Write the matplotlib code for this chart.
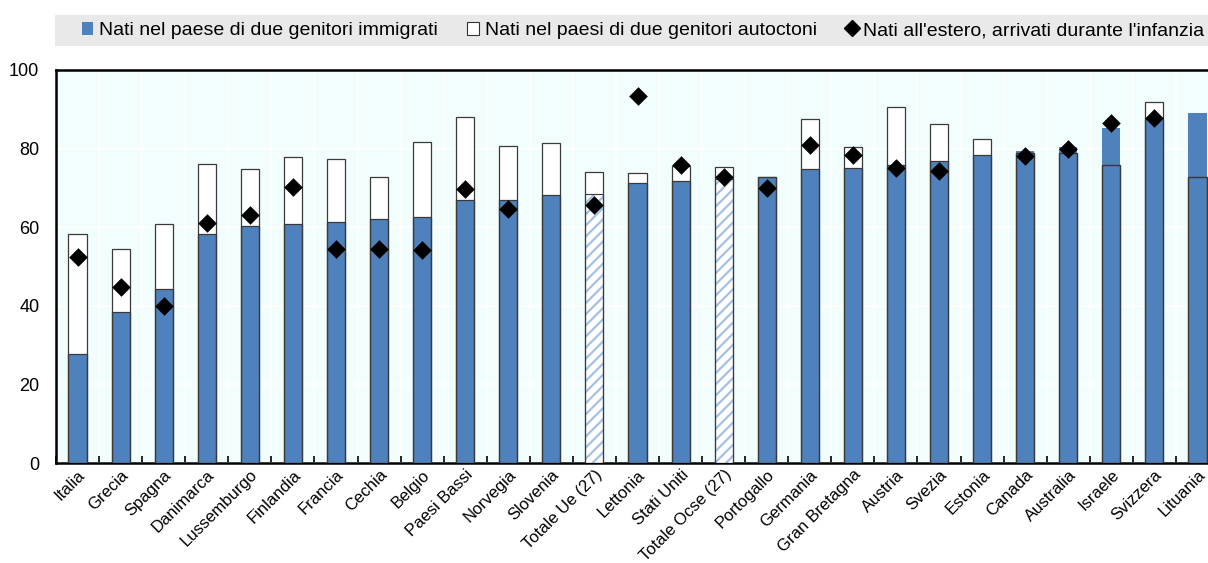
import matplotlib
matplotlib.use("Agg")
import matplotlib.pyplot as plt
import numpy as np
from matplotlib.patches import Patch
from matplotlib.lines import Line2D

categories = ["Italia", "Grecia", "Spagna", "Danimarca", "Lussemburgo", "Finlandia", "Francia",
              "Cechia", "Belgio", "Paesi Bassi", "Norvegia", "Slovenia", "Totale Ue (27)", "Lettonia",
              "Stati Uniti", "Totale Ocse (27)", "Portogallo", "Germania", "Gran Bretagna", "Austria",
              "Svezia", "Estonia", "Canada", "Australia", "Israele", "Svizzera", "Lituania"]
immigrati = [27.7, 38.5, 44.4, 58.2, 60.3, 60.8, 61.4, 62.1, 62.6, 67.0, 67.0, 68.2, 68.4, 71.3,
             71.8, 72.2, 72.8, 74.8, 75.1, 75.7, 76.8, 78.3, 79.4, 80.3, 85.3, 87.5, 89.1]
autoctoni = [58.2, 54.5, 60.7, 76.0, 74.7, 77.8, 77.3, 72.9, 81.6, 88.0, 80.7, 81.4, 74.1, 73.9,
             75.5, 75.3, 72.9, 87.5, 80.3, 90.5, 86.2, 82.4, 78.8, 79.0, 75.7, 91.8, 72.9]
estero = [52.5, 44.8, 40.0, 61.0, 63.1, 70.3, 54.4, 54.5, 54.1, 69.7, 64.6, np.nan, 65.6, 93.4,
          75.8, 72.7, 69.9, 81.0, 78.4, 75.0, 74.4, np.nan, 78.2, 79.8, 86.4, 87.7, np.nan]
totals = ["Totale Ue (27)", "Totale Ocse (27)"]
legend_labels = ["Nati nel paese di due genitori immigrati",
                 "Nati nel paesi di due genitori autoctoni",
                 "Nati all'estero, arrivati durante l'infanzia"]

plt.rcParams['font.family'] = ['Liberation Sans', 'DejaVu Sans']
plt.rcParams['hatch.color'] = '#a5c0e6'
plt.rcParams['hatch.linewidth'] = 1.6

W, H = 1208, 563
fig = plt.figure(figsize=(W / 100, H / 100), dpi=100)
left, right, bottom, top = 56, 1219, 463, 70
ax = fig.add_axes([left / W, 1 - bottom / H, (right - left) / W, (bottom - top) / H])
ax.set_facecolor('#f2fdfd')

x = np.arange(len(categories))
bw = 0.42
blue = '#4f81bd'
edge = '#3a3a3a'

ax.bar(x, autoctoni, width=bw, color='white', edgecolor='none', zorder=2)
for i, c in enumerate(categories):
    if c in totals:
        ax.bar(x[i], immigrati[i], width=bw, color='white', edgecolor='#a5c0e6', hatch='///',
               linewidth=0, zorder=3)
        ax.bar(x[i], immigrati[i], width=bw, fill=False, edgecolor=edge, linewidth=0.8, zorder=3.5)
    else:
        ax.bar(x[i], immigrati[i], width=bw, color=blue, edgecolor='none', zorder=3)
ax.bar(x, autoctoni, width=bw, fill=False, edgecolor=edge, linewidth=0.9, zorder=4)
for i, c in enumerate(categories):
    if c not in totals:
        ax.bar(x[i], min(immigrati[i], autoctoni[i]), width=bw, fill=False, edgecolor=edge,
               linewidth=0.9, zorder=4)

ax.scatter(x, estero, marker='D', s=90, color='black', zorder=5, linewidths=0)

ax.set_xlim(-0.5, len(categories) - 0.5)
ax.set_ylim(0, 100)
ax.set_yticks([0, 20, 40, 60, 80, 100])
ax.set_yticklabels(["0", "20", "40", "60", "80", "100"], fontsize=13)
ax.set_xticks(x)
ax.set_xticklabels(categories, rotation=45, ha='right', rotation_mode='anchor', fontsize=12)
ax.tick_params(axis='x', which='major', length=0, pad=3)
ax.set_xticks(np.arange(-0.5, len(categories), 1), minor=True)
ax.tick_params(axis='x', which='minor', direction='in', length=5, width=1.2, color='black')
ax.tick_params(axis='y', length=0, pad=12)

ax.grid(True, which='minor', axis='x', color='white', linewidth=1.2, zorder=0)
ax.grid(True, which='major', axis='y', color='white', linewidth=1.2, zorder=0)
ax.grid(False, which='major', axis='x')
ax.set_axisbelow(True)

ax.spines['right'].set_visible(False)
for s in ['left', 'bottom', 'top']:
    ax.spines[s].set_linewidth(1.8)
    ax.spines[s].set_color('black')

band = fig.add_axes([55 / W, 1 - 46 / H, (1208 - 55) / W, 31 / H])
band.set_facecolor('#e9e9e9')
band.set_xticks([]); band.set_yticks([])
for s in band.spines.values():
    s.set_visible(False)

handles = [Patch(facecolor=blue, edgecolor='none'),
           Patch(facecolor='white', edgecolor='#333333', linewidth=0.8),
           Line2D([], [], marker='D', color='black', linestyle='none', markersize=8)]
leg = band.legend(handles, legend_labels, loc='center', ncol=3, frameon=False, fontsize=14,
                  handlelength=0.6, handletextpad=0.3, columnspacing=1.5,
                  bbox_to_anchor=(0.51, 0.5))

fig.savefig("out.png", dpi=100)
